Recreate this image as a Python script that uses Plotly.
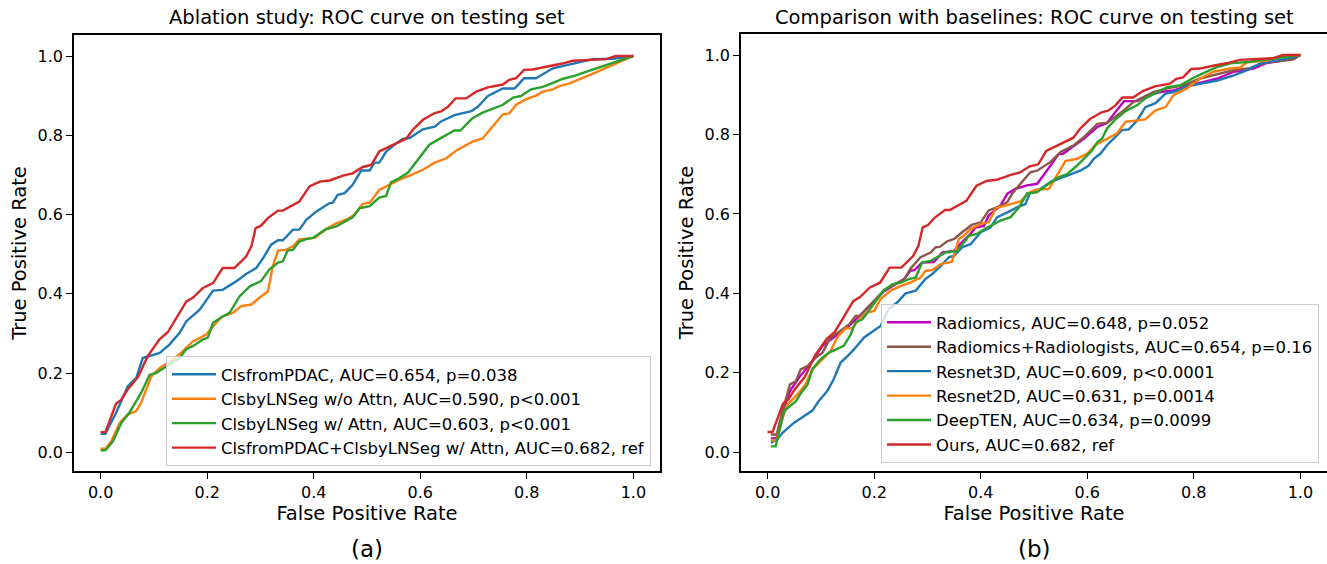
import plotly.graph_objects as go

# ---- data (FPR, TPR) ----
# (a) ablation study
ours_fpr = [0, 0.009, 0.029, 0.039, 0.051, 0.07, 0.089, 0.111, 0.126, 0.145, 0.161, 0.173, 0.192, 0.211, 0.229, 0.251,
            0.273, 0.283, 0.291, 0.301, 0.314, 0.333, 0.342, 0.373, 0.392, 0.411, 0.43, 0.455, 0.473, 0.492, 0.508,
            0.523, 0.536, 0.574, 0.586, 0.605, 0.627, 0.639, 0.652, 0.666, 0.686, 0.705, 0.727, 0.755, 0.767, 0.78,
            0.795, 0.811, 0.836, 0.867, 0.886, 0.949, 0.967, 1.0]
ours_tpr = [0.051, 0.051, 0.123, 0.133, 0.159, 0.19, 0.244, 0.286, 0.303, 0.345, 0.381, 0.39, 0.415, 0.427, 0.465, 0.465,
            0.494, 0.52, 0.566, 0.572, 0.591, 0.61, 0.61, 0.633, 0.671, 0.683, 0.686, 0.698, 0.704, 0.72, 0.725,
            0.759, 0.767, 0.792, 0.814, 0.839, 0.856, 0.86, 0.872, 0.893, 0.893, 0.91, 0.921, 0.928, 0.94, 0.944,
            0.965, 0.966, 0.973, 0.981, 0.988, 0.992, 1.0, 1.0]

pdac_fpr = [0, 0.009, 0.029, 0.051, 0.067, 0.079, 0.111, 0.129, 0.148, 0.161, 0.186, 0.211, 0.229, 0.255, 0.273, 0.292,
            0.305, 0.32, 0.333, 0.342, 0.361, 0.373, 0.386, 0.405, 0.43, 0.436, 0.445, 0.458, 0.473, 0.489, 0.505,
            0.514, 0.523, 0.536, 0.548, 0.567, 0.58, 0.605, 0.627, 0.639, 0.664, 0.696, 0.708, 0.727, 0.755, 0.777,
            0.795, 0.817, 0.849, 0.886, 0.924, 0.961, 1.0]
pdac_tpr = [0.047, 0.047, 0.1, 0.167, 0.188, 0.238, 0.251, 0.272, 0.301, 0.331, 0.36, 0.408, 0.41, 0.432, 0.45, 0.465,
            0.49, 0.524, 0.535, 0.535, 0.562, 0.562, 0.587, 0.608, 0.629, 0.63, 0.65, 0.654, 0.675, 0.711, 0.711,
            0.731, 0.731, 0.759, 0.772, 0.791, 0.793, 0.815, 0.822, 0.835, 0.851, 0.861, 0.872, 0.899, 0.918, 0.918,
            0.944, 0.944, 0.969, 0.981, 0.992, 0.993, 1.0]

noattn_fpr = [0, 0.009, 0.02, 0.036, 0.051, 0.067, 0.076, 0.095, 0.111, 0.136, 0.154, 0.173, 0.198, 0.217, 0.229, 0.248,
              0.264, 0.283, 0.298, 0.314, 0.323, 0.333, 0.348, 0.361, 0.373, 0.402, 0.423, 0.442, 0.461, 0.477, 0.492,
              0.505, 0.523, 0.542, 0.561, 0.58, 0.605, 0.627, 0.649, 0.667, 0.698, 0.717, 0.755, 0.767, 0.78, 0.799,
              0.817, 0.83, 0.849, 0.861, 0.88, 0.92, 0.955, 1.0]
noattn_tpr = [0.009, 0.009, 0.028, 0.075, 0.096, 0.104, 0.125, 0.192, 0.213, 0.234, 0.255, 0.28, 0.297, 0.327, 0.343, 0.352,
              0.369, 0.373, 0.39, 0.406, 0.469, 0.509, 0.511, 0.52, 0.537, 0.541, 0.563, 0.578, 0.587, 0.6, 0.627,
              0.63, 0.662, 0.675, 0.688, 0.698, 0.713, 0.731, 0.742, 0.761, 0.784, 0.792, 0.853, 0.855, 0.877, 0.891,
              0.9, 0.91, 0.916, 0.924, 0.931, 0.953, 0.974, 1.0]

attn_fpr = [0, 0.009, 0.023, 0.039, 0.054, 0.076, 0.092, 0.104, 0.129, 0.148, 0.161, 0.173, 0.192, 0.201, 0.211, 0.229,
            0.242, 0.261, 0.28, 0.301, 0.317, 0.333, 0.342, 0.351, 0.361, 0.373, 0.386, 0.398, 0.423, 0.442, 0.461,
            0.473, 0.486, 0.505, 0.523, 0.536, 0.545, 0.561, 0.577, 0.617, 0.636, 0.664, 0.675, 0.698, 0.717, 0.755,
            0.774, 0.789, 0.808, 0.83, 0.849, 0.867, 0.892, 0.911, 1.0]
attn_tpr = [0.005, 0.005, 0.028, 0.075, 0.1, 0.15, 0.196, 0.2, 0.222, 0.238, 0.261, 0.268, 0.285, 0.289, 0.327, 0.343,
            0.352, 0.394, 0.419, 0.432, 0.462, 0.479, 0.482, 0.509, 0.511, 0.532, 0.538, 0.541, 0.563, 0.57, 0.584,
            0.593, 0.616, 0.621, 0.643, 0.647, 0.681, 0.692, 0.706, 0.776, 0.791, 0.812, 0.812, 0.843, 0.857, 0.877,
            0.895, 0.899, 0.916, 0.922, 0.932, 0.942, 0.951, 0.96, 1.0]

# (b) comparison with baselines
rad_fpr = [0.006, 0.017, 0.028, 0.042, 0.06, 0.084, 0.103, 0.125, 0.15, 0.17, 0.19, 0.2, 0.218, 0.237, 0.256, 0.268,
           0.276, 0.29, 0.312, 0.328, 0.35, 0.365, 0.381, 0.39, 0.406, 0.415, 0.437, 0.45, 0.465, 0.487, 0.506, 0.522,
           0.546, 0.555, 0.572, 0.594, 0.619, 0.637, 0.653, 0.669, 0.694, 0.712, 0.737, 0.762, 0.787, 0.819, 0.844,
           0.875, 0.912, 0.937, 0.987, 1.0]
rad_tpr = [0.035, 0.035, 0.1, 0.155, 0.19, 0.23, 0.268, 0.29, 0.315, 0.34, 0.365, 0.38, 0.405, 0.42, 0.436, 0.457,
           0.459, 0.478, 0.479, 0.503, 0.507, 0.529, 0.55, 0.566, 0.57, 0.596, 0.621, 0.651, 0.663, 0.672, 0.676, 0.705,
           0.75, 0.752, 0.768, 0.79, 0.819, 0.829, 0.857, 0.884, 0.884, 0.898, 0.907, 0.911, 0.922, 0.932, 0.941,
           0.958, 0.966, 0.98, 0.99, 1.0]

radr_fpr = [0.006, 0.017, 0.028, 0.042, 0.053, 0.062, 0.075, 0.09, 0.103, 0.118, 0.137, 0.153, 0.165, 0.173, 0.187, 0.2,
            0.218, 0.237, 0.256, 0.268, 0.287, 0.306, 0.315, 0.323, 0.337, 0.35, 0.365, 0.384, 0.4, 0.415, 0.431, 0.45,
            0.459, 0.472, 0.493, 0.506, 0.531, 0.55, 0.575, 0.594, 0.619, 0.638, 0.653, 0.669, 0.687, 0.706, 0.725,
            0.75, 0.781, 0.812, 0.844, 0.875, 0.906, 0.922, 0.937, 0.987, 1.0]
radr_tpr = [0.045, 0.045, 0.104, 0.171, 0.179, 0.209, 0.217, 0.238, 0.251, 0.289, 0.306, 0.322, 0.343, 0.343, 0.364, 0.381,
            0.407, 0.423, 0.434, 0.462, 0.491, 0.503, 0.516, 0.517, 0.531, 0.537, 0.554, 0.573, 0.579, 0.609, 0.617, 0.63,
            0.651, 0.672, 0.705, 0.709, 0.731, 0.756, 0.773, 0.794, 0.827, 0.83, 0.844, 0.861, 0.882, 0.895, 0.907,
            0.916, 0.924, 0.941, 0.951, 0.962, 0.967, 0.976, 0.981, 0.99, 1.0]

r3d_fpr = [0.006, 0.018, 0.028, 0.049, 0.068, 0.084, 0.096, 0.112, 0.124, 0.137, 0.15, 0.162, 0.181, 0.2, 0.212, 0.228,
           0.243, 0.259, 0.278, 0.296, 0.31, 0.325, 0.34, 0.35, 0.365, 0.381, 0.4, 0.418, 0.431, 0.45, 0.469, 0.484,
           0.493, 0.512, 0.531, 0.546, 0.568, 0.587, 0.603, 0.612, 0.625, 0.637, 0.65, 0.665, 0.678, 0.694, 0.709,
           0.728, 0.747, 0.762, 0.787, 0.812, 0.844, 0.875, 0.9, 0.925, 0.975, 1.0]
r3d_tpr = [0.024, 0.032, 0.049, 0.074, 0.091, 0.105, 0.129, 0.154, 0.184, 0.226, 0.242, 0.259, 0.289, 0.306, 0.318, 0.362,
           0.377, 0.4, 0.407, 0.436, 0.45, 0.469, 0.491, 0.495, 0.516, 0.524, 0.554, 0.566, 0.592, 0.604, 0.617, 0.625,
           0.655, 0.663, 0.68, 0.688, 0.7, 0.709, 0.722, 0.739, 0.752, 0.773, 0.79, 0.811, 0.813, 0.836, 0.869,
           0.879, 0.903, 0.907, 0.921, 0.928, 0.936, 0.949, 0.962, 0.979, 0.991, 1.0]

r2d_fpr = [0.006, 0.017, 0.028, 0.037, 0.056, 0.071, 0.084, 0.099, 0.118, 0.131, 0.146, 0.159, 0.171, 0.187, 0.2, 0.212,
           0.231, 0.25, 0.268, 0.287, 0.296, 0.309, 0.325, 0.346, 0.359, 0.368, 0.381, 0.4, 0.415, 0.428, 0.45, 0.475,
           0.489, 0.503, 0.528, 0.544, 0.559, 0.581, 0.6, 0.615, 0.637, 0.656, 0.672, 0.687, 0.709, 0.728, 0.747,
           0.762, 0.787, 0.812, 0.837, 0.862, 0.887, 0.9, 0.937, 0.962, 1.0]
r2d_tpr = [0.03, 0.03, 0.087, 0.12, 0.146, 0.171, 0.209, 0.23, 0.255, 0.29, 0.312, 0.312, 0.335, 0.352, 0.356, 0.386,
           0.407, 0.419, 0.427, 0.44, 0.457, 0.459, 0.474, 0.48, 0.537, 0.545, 0.562, 0.575, 0.579, 0.614, 0.623, 0.632,
           0.653, 0.661, 0.663, 0.701, 0.733, 0.739, 0.752, 0.773, 0.79, 0.803, 0.832, 0.834, 0.838, 0.861, 0.869,
           0.899, 0.916, 0.941, 0.958, 0.965, 0.969, 0.982, 0.986, 0.996, 1.0]

dten_fpr = [0.006, 0.015, 0.031, 0.053, 0.065, 0.075, 0.084, 0.099, 0.115, 0.128, 0.143, 0.156, 0.165, 0.178, 0.193, 0.206,
            0.218, 0.234, 0.25, 0.265, 0.278, 0.29, 0.306, 0.318, 0.334, 0.356, 0.378, 0.393, 0.412, 0.437, 0.456,
            0.472, 0.487, 0.506, 0.531, 0.546, 0.562, 0.581, 0.594, 0.609, 0.619, 0.628, 0.637, 0.653, 0.672, 0.694,
            0.709, 0.731, 0.75, 0.775, 0.797, 0.819, 0.844, 0.869, 0.906, 0.937, 0.987, 1.0]
dten_tpr = [0.015, 0.015, 0.104, 0.129, 0.154, 0.171, 0.209, 0.234, 0.251, 0.259, 0.268, 0.297, 0.327, 0.335, 0.364, 0.386,
            0.408, 0.423, 0.427, 0.436, 0.44, 0.478, 0.482, 0.491, 0.503, 0.507, 0.545, 0.55, 0.566, 0.583, 0.592,
            0.617, 0.651, 0.655, 0.68, 0.692, 0.7, 0.722, 0.739, 0.76, 0.781, 0.79, 0.815, 0.838, 0.859, 0.874,
            0.891, 0.905, 0.919, 0.924, 0.941, 0.955, 0.97, 0.979, 0.983, 0.989, 0.998, 1.0]

names_a = ["ClsfromPDAC, AUC=0.654, p=0.038",
           "ClsbyLNSeg w/o Attn, AUC=0.590, p<0.001",
           "ClsbyLNSeg w/ Attn, AUC=0.603, p<0.001",
           "ClsfromPDAC+ClsbyLNSeg w/ Attn, AUC=0.682, ref"]
names_b = ["Radiomics, AUC=0.648, p=0.052",
           "Radiomics+Radiologists, AUC=0.654, p=0.16",
           "Resnet3D, AUC=0.609, p<0.0001",
           "Resnet2D, AUC=0.631, p=0.0014",
           "DeepTEN, AUC=0.634, p=0.0099",
           "Ours, AUC=0.682, ref"]

curves_a = [(pdac_fpr, pdac_tpr, "#1f77b4"), (noattn_fpr, noattn_tpr, "#ff7f0e"),
            (attn_fpr, attn_tpr, "#2ca02c"), (ours_fpr, ours_tpr, "#d62728")]
curves_b = [(rad_fpr, rad_tpr, "#bf00bf"), (radr_fpr, radr_tpr, "#8c564b"), (r3d_fpr, r3d_tpr, "#1f77b4"),
            (r2d_fpr, r2d_tpr, "#ff7f0e"), (dten_fpr, dten_tpr, "#2ca02c"), (ours_fpr, ours_tpr, "#d62728")]

FONT = "DejaVu Sans"
W, H = 1327, 564

fig = go.Figure()

for name, (x, y, c) in zip(names_a, curves_a):
    fig.add_trace(go.Scatter(x=x, y=y, mode="lines", name=name, line=dict(color=c, width=2.4),
                             xaxis="x", yaxis="y", legend="legend"))
for name, (x, y, c) in zip(names_b, curves_b):
    fig.add_trace(go.Scatter(x=x, y=y, mode="lines", name=name, line=dict(color=c, width=2.4),
                             xaxis="x2", yaxis="y2", legend="legend2"))

ax = dict(range=[-0.05, 1.05], tickvals=[0, 0.2, 0.4, 0.6, 0.8, 1.0], ticktext=["0.0", "0.2", "0.4", "0.6", "0.8", "1.0"],
          showline=True, linecolor="black", linewidth=1.6, mirror=True, ticks="outside", ticklen=6, tickwidth=1.4,
          tickcolor="black", showgrid=False, zeroline=False, automargin=False,
          tickfont=dict(family=FONT, size=16, color="black"))
ay = dict(ax, range=[-0.047, 1.053])

leg = dict(xanchor="right", yanchor="bottom", bgcolor="rgba(255,255,255,0.8)", bordercolor="#cccccc",
           borderwidth=1, font=dict(family=FONT, size=16.5, color="black"), itemwidth=44)

bottom = 1 - 471 / H
fig.update_layout(
    width=W, height=H, margin=dict(l=0, r=0, t=0, b=0),
    plot_bgcolor="white", paper_bgcolor="white",
    font=dict(family=FONT, color="black"),
    xaxis=dict(ax, domain=[74 / W, 660 / W], anchor="y",
               title=dict(text="False Positive Rate", font=dict(size=19.5), standoff=4)),
    yaxis=dict(ay, domain=[bottom, 1 - 35 / H], anchor="x",
               title=dict(text="True Positive Rate", font=dict(size=19.5), standoff=6)),
    xaxis2=dict(ax, domain=[741 / W, 1.0], anchor="y2",
                title=dict(text="False Positive Rate", font=dict(size=19.5), standoff=4)),
    yaxis2=dict(ay, domain=[bottom, 1 - 34 / H], anchor="x2",
                title=dict(text="True Positive Rate", font=dict(size=19.5), standoff=6)),
    legend=dict(leg, x=651 / W, y=1 - 466 / H),
    legend2=dict(leg, x=1319 / W, y=1 - 463 / H),
    annotations=[
        dict(text="Ablation study: ROC curve on testing set", x=367 / W, y=1 - 18 / H, xref="paper", yref="paper",
             showarrow=False, font=dict(size=19.5), xanchor="center", yanchor="middle"),
        dict(text="Comparison with baselines: ROC curve on testing set", x=1034 / W, y=1 - 18 / H, xref="paper",
             yref="paper", showarrow=False, font=dict(size=19.5), xanchor="center", yanchor="middle"),
        dict(text="(a)", x=367 / W, y=1 - 549 / H, xref="paper", yref="paper", showarrow=False,
             font=dict(size=23), xanchor="center", yanchor="middle"),
        dict(text="(b)", x=1034 / W, y=1 - 549 / H, xref="paper", yref="paper", showarrow=False,
             font=dict(size=23), xanchor="center", yanchor="middle"),
    ],
)

# drop the page's default body margin so the figure sits at the window's top-left corner
fig.write_html("out.html", config={"displayModeBar": False},
               post_script="document.body.style.margin='0';")
